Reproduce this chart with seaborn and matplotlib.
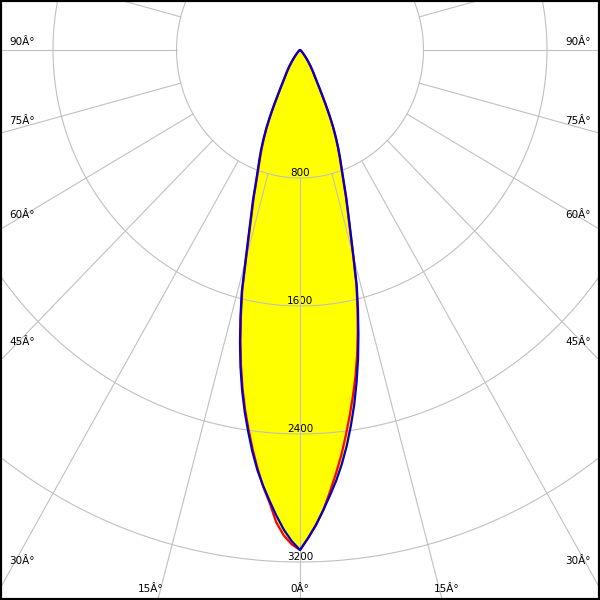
import numpy as np
import pandas as pd
import matplotlib
matplotlib.use("Agg")
import matplotlib.pyplot as plt
import seaborn as sns

# ---- data ----
angles = [0, 1, 2, 3, 4, 5, 6, 7, 8, 9, 10, 11, 12, 13, 14, 15, 16, 17, 18, 19, 20,
          21, 22, 23, 24, 25, 26, 27, 28, 29, 30, 32, 34, 36, 38, 40, 45, 50, 60, 70, 80, 90]
# C90-C270 plane (blue): left side = C270, right side = C90
blue_left = [3125, 3070, 3000, 2915, 2825, 2735, 2640, 2530, 2410, 2290, 2160,
             2020, 1870, 1715, 1560, 1365, 1210, 1085, 985, 880, 800,
             735, 674, 608, 540, 465, 390, 320, 270, 230, 200,
             160, 125, 95, 70, 50, 25, 12, 5, 2, 1, 0]
blue_right = [3125, 3050, 2970, 2880, 2790, 2700, 2600, 2490, 2370, 2245, 2110,
              1970, 1820, 1670, 1520, 1340, 1190, 1070, 970, 870, 790,
              725, 662, 597, 530, 455, 382, 315, 265, 225, 195,
              157, 123, 94, 69, 50, 25, 12, 5, 2, 1, 0]
# C0-C180 plane (red): left side = C180, right side = C0
red_left = [3125, 3090, 3035, 2955, 2835, 2740, 2630, 2515, 2395, 2275, 2145,
            2005, 1855, 1700, 1545, 1350, 1195, 1070, 970, 868, 788,
            722, 660, 595, 528, 455, 380, 313, 264, 225, 196,
            157, 123, 94, 69, 50, 25, 12, 5, 2, 1, 0]
red_right = [3125, 3050, 2970, 2880, 2770, 2660, 2550, 2430, 2310, 2190, 2070,
             1940, 1800, 1655, 1510, 1330, 1180, 1060, 960, 862, 782,
             718, 655, 590, 524, 450, 378, 311, 262, 223, 193,
             155, 122, 93, 68, 49, 25, 12, 5, 2, 1, 0]

ring_values = [800, 1600, 2400, 3200, 4000, 4800, 5600]
ring_labels = ["800", "1600", "2400", "3200"]
angle_labels_side = ["90Â°", "75Â°", "60Â°", "45Â°", "30Â°"]
angle_labels_bottom = ["15Â°", "0Â°", "15Â°"]

# ---- style ----
sns.set_style("white")
plt.rcParams['font.family'] = ['DejaVu Sans']

W = H = 600
fig = plt.figure(figsize=(6, 6), dpi=100)
ax = fig.add_axes([0, 0, 1, 1])

sx = 123.5 / 800.0   # px per cd horizontally
sy = 128.0 / 800.0   # px per cd vertically
cx_px, cy_px = 300, 50
ax.set_xlim(-cx_px / sx, (W - cx_px) / sx)
ax.set_ylim(-(H - cy_px) / sy, cy_px / sy)


def to_xy(ang_deg, vals, side):
    a = np.radians(np.asarray(ang_deg, dtype=float))
    v = np.asarray(vals, dtype=float)
    return side * v * np.sin(a), -v * np.cos(a)


def plane_frame(left, right, name):
    xl, yl = to_xy(angles, left, -1)
    xr, yr = to_xy(angles, right, 1)
    x = np.concatenate([xl[::-1], xr[1:]])
    y = np.concatenate([yl[::-1], yr[1:]])
    return pd.DataFrame({"x": x, "y": y, "plane": name, "order": np.arange(len(x))})

df_red = plane_frame(red_left, red_right, "C0-C180")
df_blue = plane_frame(blue_left, blue_right, "C90-C270")

# fills
ax.fill(df_red["x"], df_red["y"], color="#ffff00", zorder=1, lw=0)
ax.fill(df_blue["x"], df_blue["y"], color="#ffff00", zorder=1, lw=0)

# ring labels (under grid)
for v, lab in zip(ring_values, ring_labels):
    ax.annotate(lab, xy=(0, -v), xytext=(0, 3.8), textcoords="offset points",
                ha="center", va="center", fontsize=7.5, color="black", zorder=1.5)

# grid
grid_c = "#c0c0c0"
t = np.linspace(0, 2 * np.pi, 721)
for v in ring_values:
    ax.plot(v * np.sin(t), v * np.cos(t), color=grid_c, lw=0.8, zorder=2)
for a in range(0, 360, 15):
    ar = np.radians(a)
    r0, r1 = ring_values[0], 8000
    ax.plot([r0 * np.sin(ar), r1 * np.sin(ar)], [-r0 * np.cos(ar), -r1 * np.cos(ar)],
            color=grid_c, lw=0.8, zorder=2)

# curves
sns.lineplot(data=df_red, x="x", y="y", sort=False, estimator=None, color="#ff0000",
             lw=1.6, ax=ax, zorder=3)
sns.lineplot(data=df_blue, x="x", y="y", sort=False, estimator=None, color="#0000cc",
             lw=1.6, ax=ax, zorder=4)

# angle labels
side_y = [42, 121, 215, 342, 561]
for lab, py in zip(angle_labels_side, side_y):
    ax.text(9 / W, 1 - py / H, lab, transform=ax.transAxes, ha="left", va="center",
            fontsize=7.5, color="black")
    ax.text(591 / W, 1 - py / H, lab, transform=ax.transAxes, ha="right", va="center",
            fontsize=7.5, color="black")
bottom_x = [151, 300, 447]
for lab, px in zip(angle_labels_bottom, bottom_x):
    ax.text(px / W, 1 - 589 / H, lab, transform=ax.transAxes, ha="center", va="center",
            fontsize=7.5, color="black")

ax.set_xticks([])
ax.set_yticks([])
ax.set_xlabel("")
ax.set_ylabel("")
for s in ax.spines.values():
    s.set_visible(True)
    s.set_color("black")
    s.set_linewidth(3)

fig.savefig("out.png", dpi=100)
